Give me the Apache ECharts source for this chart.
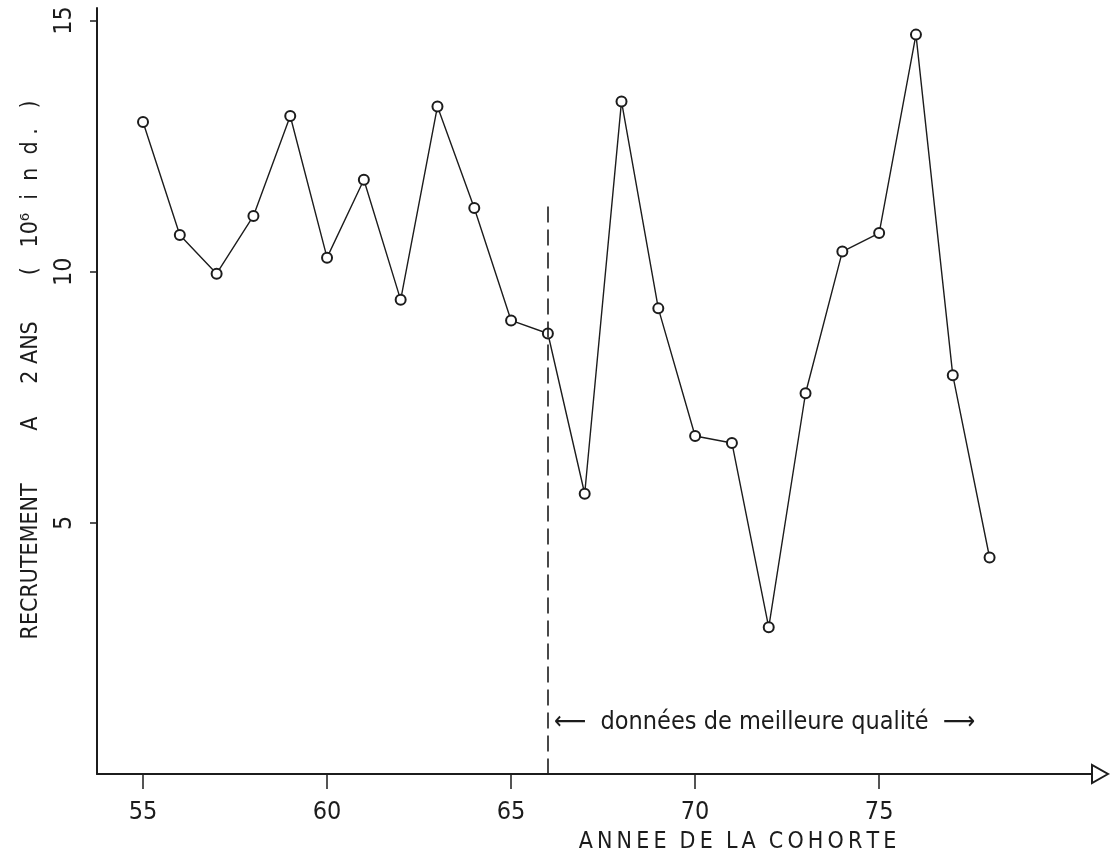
<!DOCTYPE html>
<html>
<head>
<meta charset="utf-8">
<script src="https://cdn.jsdelivr.net/npm/echarts@6/dist/echarts.min.js"></script>
<style>
  html, body { margin: 0; padding: 0; background: #fff; }
  #chart { width: 1111px; height: 859px; }
</style>
</head>
<body>
<div id="chart"></div>
<script>
// cohort years (19xx) and recruitment at age 2 (10^6 individuals)
const years = [55, 56, 57, 58, 59, 60, 61, 62, 63, 64, 65, 66,
               67, 68, 69, 70, 71, 72, 73, 74, 75, 76, 77, 78]
const recruits = [12.98, 10.73, 9.96, 11.11, 13.1, 10.28, 11.83, 9.44, 13.29, 11.27, 9.03, 8.77,
                  5.58, 13.39, 9.27, 6.73, 6.59, 2.92, 7.58, 10.4, 10.77, 14.72, 7.94, 4.31]
const xTicks = [55, 60, 65, 70, 75]
const yTicks = [5, 10, 15]
const splitYear = 66
const splitTop = 11.3

const font = "'DejaVu Sans Condensed', 'Liberation Sans Narrow', 'DejaVu Sans', sans-serif"
const ink = '#1c1c1c'

const chart = echarts.init(document.getElementById('chart'))

const points = years.map((y, i) => [y, recruits[i]])

const option = {
    backgroundColor: '#fff',
    animation: false,
    grid: { left: 97, right: 11, top: 8, bottom: 82 },
    xAxis: {
        type: 'value',
        min: 53.75,
        max: 81,
        name: 'A\u2009N\u2009N\u2009E\u2009E  D\u2009E  L\u2009A  C\u2009O\u2009H\u2009O\u2009R\u2009T\u2009E',
        nameLocation: 'middle',
        nameGap: 57,
        nameTextStyle: { fontFamily: font, fontSize: 23, color: ink, padding: [0, 0, 0, 278] },
        axisLine: {
            lineStyle: { color: ink, width: 2 },
            symbol: ['none', 'emptyTriangle'],
            symbolSize: [18, 16],
        },
        axisTick: { customValues: xTicks, length: 15, lineStyle: { color: ink, width: 1.5 } },
        axisLabel: { customValues: xTicks, margin: 26, fontFamily: font, fontSize: 25, color: ink },
        splitLine: { show: false },
    },
    yAxis: {
        type: 'value',
        min: 0,
        max: 15.25,
        name: 'RECRUTEMENT        A     2 ANS       (   10⁶  i  n  d .   )',
        nameLocation: 'middle',
        nameGap: 54,
        nameRotate: 90,
        nameTextStyle: { fontFamily: font, fontSize: 23, color: ink, padding: [0, 0, 0, 42] },
        axisLine: { show: true, lineStyle: { color: ink, width: 2 } },
        axisTick: { show: true, customValues: yTicks, length: 7, lineStyle: { color: ink, width: 1.5 } },
        axisLabel: { customValues: yTicks, rotate: 90, margin: 20, fontFamily: font, fontSize: 25, color: ink },
        splitLine: { show: false },
    },
    series: [
        {
            type: 'line',
            data: points,
            symbol: 'emptyCircle',
            symbolSize: 10,
            lineStyle: { color: ink, width: 1.4 },
            itemStyle: { color: ink, borderWidth: 1.6 },
            markLine: {
                silent: true,
                symbol: 'none',
                label: { show: false },
                lineStyle: { color: ink, width: 1.6, type: [16, 7] },
                data: [[{ coord: [splitYear, splitTop] }, { coord: [splitYear, 0] }]],
            },
        },
    ],
    graphic: [
        {
            type: 'text',
            left: 554,
            top: 710,
            style: {
                text: '⟵  données de meilleure qualité  ⟶',
                font: '25px ' + font,
                fill: ink,
            },
        },
    ],
}

chart.setOption(option)
</script>
</body>
</html>
